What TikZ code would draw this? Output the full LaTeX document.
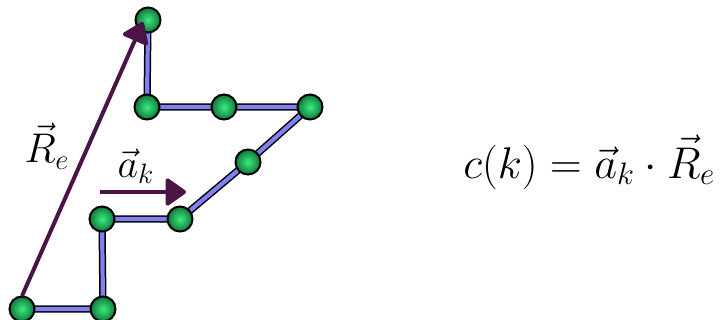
\documentclass[tikz,border=0pt]{standalone}
\usepackage{fix-cm}
\usetikzlibrary{arrows.meta,backgrounds}
\definecolor{arrowpurple}{RGB}{74,20,70}
\definecolor{bondblue}{RGB}{128,128,245}
\definecolor{ballin}{RGB}{60,235,130}
\definecolor{ballout}{RGB}{15,120,55}
\tikzset{
  monomer/.style={circle, draw=black, line width=1pt, minimum size=12.5pt, inner sep=0pt,
    inner color=ballin, outer color=ballout},
  bondout/.style={line width=3.6pt, black},
  bondin/.style={line width=2.1pt, bondblue},
  vecarrow/.style={line width=2pt, arrowpurple, line join=round,
    -{Triangle[length=11pt,width=15pt,round]}}
}
\begin{document}
\begin{tikzpicture}[x=0.5pt, y=-0.5pt]
    \useasboundingbox (0,0) rectangle (721,320);

    % Chain of monomers
    \node[monomer] (m1) at (22,309) {};
    \node[monomer] (m2) at (103,309) {};
    \node[monomer] (m3) at (102,219) {};
    \node[monomer] (m4) at (180,219) {};
    \node[monomer] (m5) at (248,162) {};
    \node[monomer] (m6) at (310,107) {};
    \node[monomer] (m7) at (224,107) {};
    \node[monomer] (m8) at (147,107) {};
    \node[monomer] (m9) at (148,20) {};

    % Bonds
    \begin{scope}[on background layer]
      \draw[bondout] (m1.center) -- (m2.center) -- (m3.center) -- (m4.center) -- (m5.center)
        -- (m6.center) -- (m7.center) -- (m8.center) -- (m9.center);
      \draw[bondin] (m1.center) -- (m2.center) -- (m3.center) -- (m4.center) -- (m5.center)
        -- (m6.center) -- (m7.center) -- (m8.center) -- (m9.center);
    \end{scope}

    % End-to-end vector
    \coordinate (rtail) at (22,296);
    \coordinate (rtip) at (143,22);
    \draw[vecarrow] (rtail) -- (rtip);
    \node (rlabel) at (47,146) {\fontsize{20.74}{24}\selectfont$\vec{R}_e$};

    % Bond vector
    \coordinate (atail) at (100,192);
    \coordinate (atip) at (186,192);
    \draw[vecarrow] (atail) -- (atip);
    \node (alabel) at (136,166) {\fontsize{20}{24}\selectfont$\vec{a}_k$};

    % Correlation
    \node[inner sep=0pt, anchor=base west] (corr) at (463,178)
      {\fontsize{22.2}{26}\selectfont$c(k)=\vec{a}_k\cdot\vec{R}_e$};
\end{tikzpicture}
\end{document}
